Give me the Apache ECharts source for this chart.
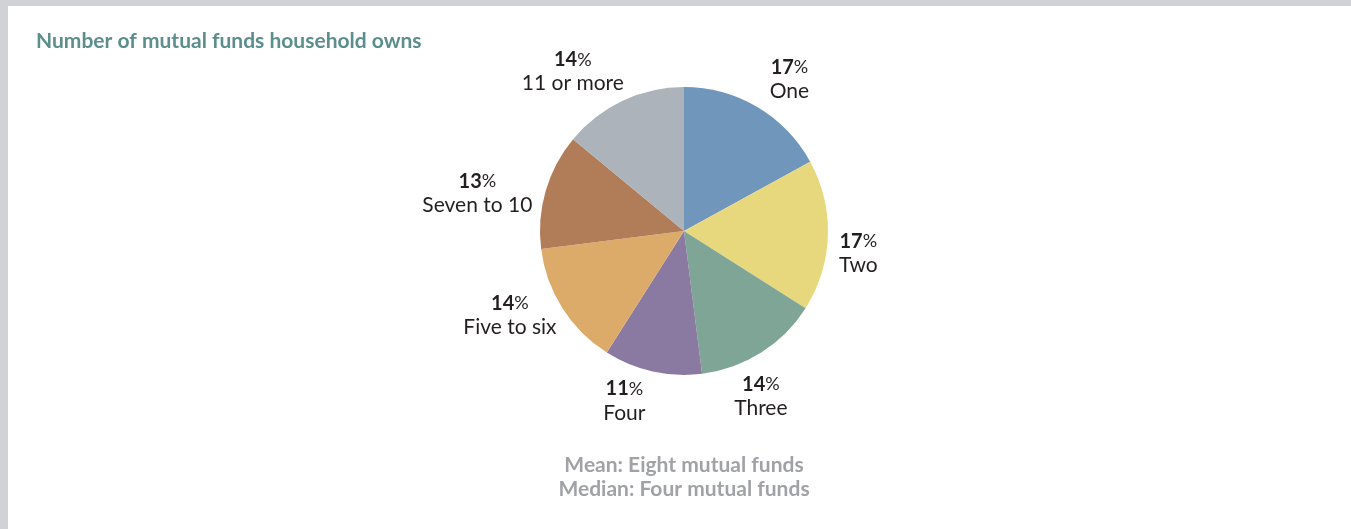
<!DOCTYPE html>
<html>
<head>
<meta charset="utf-8">
<style>
  html, body { margin: 0; padding: 0; }
  body { width: 1351px; height: 529px; background: #d1d2d7; position: relative; overflow: hidden; }
  #chart { position: absolute; left: 8px; top: 6px; width: 1343px; height: 523px; background: #ffffff; }
</style>
<script src="https://cdn.jsdelivr.net/npm/echarts@6/dist/echarts.min.js"></script>
</head>
<body>
<div id="chart"></div>
<script>
// Share of households by number of mutual funds owned (percent)
const categories = ['One', 'Two', 'Three', 'Four', 'Five to six', 'Seven to 10', '11 or more'];
const shares = [17, 17, 14, 11, 14, 13, 14];
const sliceColors = ['#7096bc', '#e8d87d', '#7fa596', '#8a79a0', '#dcab6a', '#b07d58', '#acb3ba'];
const footnotes = ['Mean: Eight mutual funds', 'Median: Four mutual funds'];

const chart = echarts.init(document.getElementById('chart'), null, { renderer: 'canvas' });

const CX = 676, CY = 225, R = 144, GAP = 12;
// small hand adjustments so each label sits where the layout wants it
const labelNudge = [[16, 2], [-1, 17], [-21, 15], [-21, -4], [-3, -11], [-4, 12], [-23, 2]];

const total = shares.reduce((a, b) => a + b, 0);
const midAngles = [];
let acc = 0;
shares.forEach(v => { midAngles.push((acc + v / 2) / total * 2 * Math.PI); acc += v; });

const FONT = 'Lato, "Open Sans", sans-serif';

chart.setOption({
  animation: false,
  title: [{
    text: 'Number of mutual funds household owns',
    left: 28, top: 25, padding: 0,
    textStyle: { fontFamily: FONT, fontWeight: 'bold', fontSize: 21, color: '#5b8e8c' }
  }, {
    text: footnotes.join('\n'),
    left: 676, top: 447, textAlign: 'center', padding: 0,
    textStyle: { fontFamily: FONT, fontWeight: 'bold', fontSize: 21, lineHeight: 24, color: '#a0a2a6' }
  }],
  series: [{
    type: 'pie',
    center: [CX, CY],
    radius: R,
    startAngle: 90,
    clockwise: true,
    avoidLabelOverlap: false,
    itemStyle: { borderWidth: 0 },
    emphasis: { disabled: true },
    labelLine: { show: false },
    label: {
      show: true,
      position: 'outside',
      formatter: p => '{b|' + p.value + '}{p|%}\n{n|' + p.name + '}',
      rich: {
        b: { fontFamily: FONT, fontWeight: 'bold', fontSize: 20, color: '#231f20', lineHeight: 24 },
        p: { fontFamily: FONT, fontSize: 18, color: '#231f20', lineHeight: 24 },
        n: { fontFamily: FONT, fontSize: 21, color: '#231f20', lineHeight: 24 }
      }
    },
    labelLayout: function (params) {
      const i = params.dataIndex;
      const a = midAngles[i];
      const ux = Math.sin(a), uy = -Math.cos(a);
      const hw = params.labelRect.width / 2, hh = params.labelRect.height / 2;
      const x = CX + (R + GAP) * ux + hw * ux + labelNudge[i][0];
      const y = CY + (R + GAP) * uy + hh * uy + labelNudge[i][1];
      return { x: x, y: y, align: 'center', verticalAlign: 'middle' };
    },
    data: categories.map((c, i) => ({ name: c, value: shares[i], itemStyle: { color: sliceColors[i] } }))
  }]
});
</script>
</body>
</html>
